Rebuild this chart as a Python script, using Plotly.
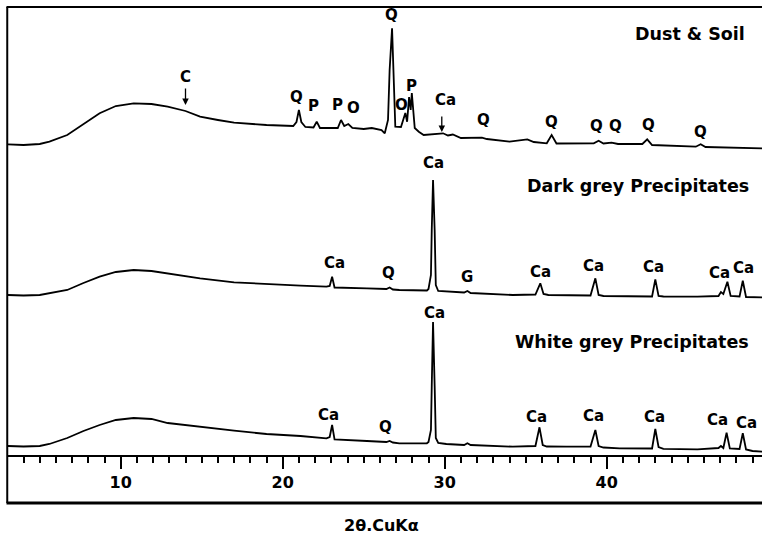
import plotly.graph_objects as go

# ---------------- data (2-theta in degrees, intensity in arbitrary units) ----------------
tt_white = [3.0, 4.0, 5.0, 5.6, 6.7, 7.7, 8.7, 9.7, 10.8, 11.9, 12.9, 14.9, 17.0, 19.0, 21.1, 22.7,
            22.9, 23.05, 23.2, 25.2, 26.4, 26.6, 26.8, 27.2, 28.9, 29.0, 29.15, 29.2, 29.28, 29.38,
            29.45, 29.6, 30.1, 31.2, 31.4, 31.6, 34.2, 35.6, 35.85, 36.05, 36.3, 37.5, 39.0, 39.3,
            39.5, 39.8, 40.8, 42.8, 43.0, 43.2, 43.5, 45.6, 46.9, 47.05, 47.2, 47.4, 47.6, 48.2,
            48.4, 48.6, 49.0, 49.6]
int_white = [9, 8.5, 9, 11, 17, 24, 30, 35, 37, 36, 32, 28, 24.3, 21, 19, 16.7,
             18, 30, 15.5, 14, 13, 14, 12.5, 11.7, 11.7, 13, 25, 69, 133, 69,
             17, 12, 11, 10, 11.7, 10, 8.3, 9, 27.7, 10, 8.5, 8.3, 8.5, 25,
             9, 7.5, 6.7, 6.5, 26, 8, 6.2, 5.7, 7, 9, 7, 22.3, 6.5, 6,
             21.7, 5.5, 4, 3.3]

tt_dark = [3.0, 4.0, 5.0, 5.6, 6.7, 7.7, 8.7, 9.7, 10.8, 11.9, 12.9, 14.9, 17.0, 19.0, 21.1, 22.7,
           22.9, 23.05, 23.2, 25.2, 26.4, 26.6, 26.8, 27.2, 28.9, 29.0, 29.15, 29.2, 29.28, 29.38,
           29.45, 29.6, 30.1, 31.2, 31.4, 31.6, 34.2, 35.6, 35.9, 36.1, 36.4, 37.5, 39.0, 39.3,
           39.5, 39.8, 40.8, 42.8, 43.0, 43.2, 43.5, 45.6, 46.9, 47.05, 47.2, 47.45, 47.65, 48.2,
           48.4, 48.6, 49.6]
int_dark = [160, 159.5, 160, 161.5, 165, 172, 178.3, 183, 185, 184, 181.7, 176.7, 172.7, 170.7, 169.3, 168.3,
            169, 178.3, 167.5, 166.7, 166, 167.5, 165.5, 165, 164.5, 166, 180, 225, 275, 225,
            170, 164, 163.3, 162.5, 164, 162, 160, 160.5, 171.7, 161, 160, 160, 159.5, 176.7,
            160, 159, 159, 158.5, 175.7, 159, 158.5, 158.3, 159, 163, 161, 173.3, 159, 158.5,
            174.3, 158, 157.7]

tt_dust = [3.0, 4.0, 5.0, 5.6, 6.7, 7.7, 8.7, 9.7, 10.8, 11.9, 12.9, 14.0, 14.9, 16.0, 17.0, 19.0,
           20.65, 20.85, 21.0, 21.15, 21.4, 21.9, 22.1, 22.3, 23.4, 23.6, 23.8, 24.05, 24.3, 25.0,
           25.5, 26.1, 26.3, 26.5, 26.6, 26.75, 26.85, 26.95, 27.3, 27.57, 27.68, 27.8, 27.9, 27.97,
           28.15, 28.4, 28.7, 29.6, 29.9, 30.2, 30.5, 31.0, 32.1, 32.3, 32.6, 34.0, 35.1, 35.5,
           36.3, 36.6, 36.9, 39.2, 39.5, 39.8, 40.3, 40.7, 42.2, 42.5, 42.8, 45.5, 45.8, 46.1, 49.6]
int_dust = [310.7, 310, 311, 313.3, 320, 331, 341.7, 349, 351.7, 351, 348.3, 344, 338.3, 335, 332.3, 330,
            329, 333, 345, 333, 328, 327.5, 333.3, 327, 327, 335, 329, 331, 327, 326,
            327, 325, 321.7, 335, 385, 426.7, 385, 328.3, 328, 342, 333.3, 358, 345, 362,
            327, 323.3, 320, 321, 321.7, 319.5, 320.5, 317, 317, 317.3, 316, 313.3, 315.7, 313,
            311.7, 320, 311.5, 311.7, 314.3, 311.5, 312.3, 311, 311, 315.7, 310, 308.3, 310.7, 308, 306.7]

# peak labels: (text, 2-theta, intensity level of label)
labels_dust = [("C", 14.0, 378), ("Q", 20.86, 358), ("P", 21.87, 349), ("P", 23.41, 350),
               ("O", 24.34, 347), ("Q", 26.73, 440), ("O", 27.35, 350), ("P", 27.96, 369),
               ("Ca", 30.02, 355), ("Q", 32.38, 335), ("Q", 36.6, 333), ("Q", 39.38, 329),
               ("Q", 40.57, 329), ("Q", 42.57, 330), ("Q", 45.8, 323)]
arrows_dust = [(14.0, 368, 350), (29.82, 340, 323)]
labels_dark = [("Ca", 29.28, 292), ("Ca", 23.19, 192), ("Q", 26.52, 182), ("G", 31.36, 178),
               ("Ca", 35.94, 183), ("Ca", 39.17, 189), ("Ca", 42.88, 188), ("Ca", 46.99, 182),
               ("Ca", 48.47, 187)]
labels_white = [("Ca", 29.4, 142), ("Ca", 22.81, 40), ("Q", 26.36, 28), ("Ca", 35.68, 38),
                ("Ca", 39.17, 39), ("Ca", 42.92, 38), ("Ca", 46.83, 35), ("Ca", 48.6, 32)]
sample_names = [("Dust & Soil", 48.69, 421), ("Dark grey Precipitates", 48.9, 269),
                ("White grey Precipitates", 48.9, 113)]

x_title = "2θ.CuKα"
x_range = [3.043, 49.586]
y_range = [0, 448]

# ---------------- figure ----------------
fig = go.Figure()
for tt, it in [(tt_white, int_white), (tt_dark, int_dark), (tt_dust, int_dust)]:
    fig.add_trace(go.Scatter(x=tt, y=it, mode="lines",
                             line=dict(color="black", width=1.8), showlegend=False,
                             hoverinfo="skip"))

FONT = "DejaVu Sans"
ann = []
for lab_list in (labels_dust, labels_dark, labels_white):
    for txt, xx, yy in lab_list:
        ann.append(dict(x=xx, y=yy, xref="x", yref="y", text=txt, showarrow=False,
                        font=dict(family=FONT, size=15, color="black", weight="bold")))
for xx, y_top, y_head in arrows_dust:
    ann.append(dict(x=xx, y=y_head, ax=xx, ay=y_top, xref="x", yref="y", axref="x", ayref="y",
                    text="", showarrow=True, arrowhead=2, arrowsize=1, arrowwidth=1.3,
                    arrowcolor="black"))
for txt, xx, yy in sample_names:
    ann.append(dict(x=xx, y=yy, xref="x", yref="y", text=txt, showarrow=False, xanchor="right",
                    font=dict(family=FONT, size=17.5, color="black", weight="bold")))
ann.append(dict(x=0.496, y=-0.158, xref="paper", yref="paper", text=x_title, showarrow=False,
                xanchor="center", yanchor="middle",
                font=dict(family=FONT, size=16, color="black", weight="bold")))

shapes = [
    dict(type="line", xref="paper", yref="paper", x0=-0.001, x1=-0.001, y0=1.0, y1=-0.107,
         line=dict(color="black", width=2)),
    dict(type="line", xref="paper", yref="paper", x0=-0.002, x1=1.0, y0=1.0, y1=1.0,
         line=dict(color="black", width=2)),
    dict(type="line", xref="paper", yref="paper", x0=-0.002, x1=1.0, y0=-0.107, y1=-0.107,
         line=dict(color="black", width=3)),
]

fig.update_layout(
    width=762, height=543,
    margin=dict(l=8, r=0, t=7, b=88),
    paper_bgcolor="white", plot_bgcolor="white",
    annotations=ann, shapes=shapes,
    xaxis=dict(range=x_range, showgrid=False, zeroline=False, showline=True,
               linecolor="black", linewidth=2, ticks="outside", tickmode="linear",
               tick0=0, dtick=10, ticklen=12, tickwidth=1.5, tickcolor="black",
               ticklabelstandoff=0,
               tickfont=dict(family=FONT, size=16, color="black", weight="bold"),
               minor=dict(dtick=1, tick0=0, ticks="outside", ticklen=6, tickwidth=1.5,
                          tickcolor="black", showgrid=False)),
    yaxis=dict(range=y_range, visible=False, showgrid=False, zeroline=False),
)

fig.write_html("out.html", config={"displayModeBar": False},
               post_script="document.body.style.margin='0px';document.body.style.padding='0px';")
